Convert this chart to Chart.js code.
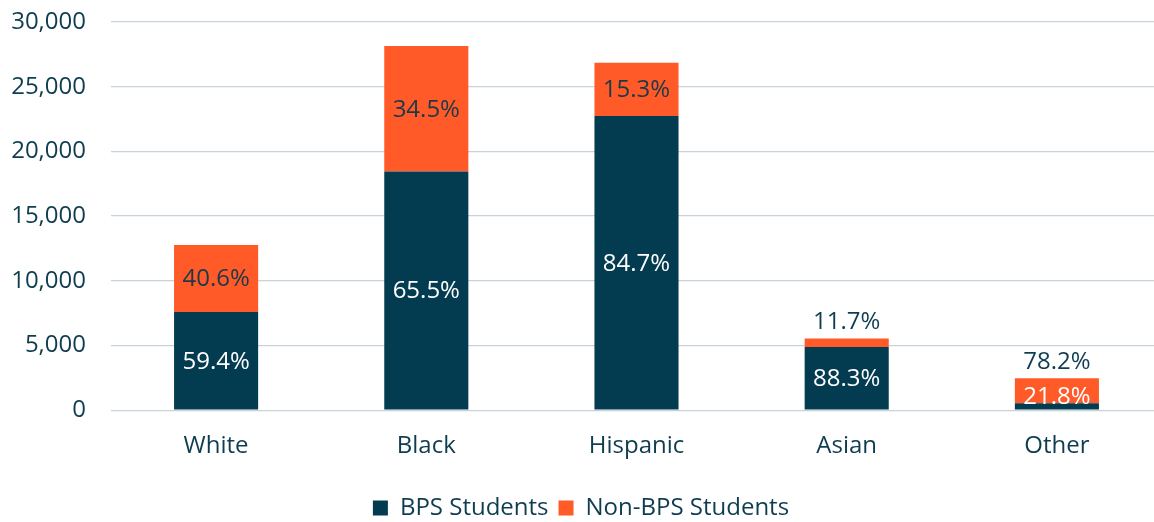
<!DOCTYPE html>
<html>
<head>
<meta charset="utf-8">
<script src="https://cdn.jsdelivr.net/npm/chart.js@4"></script>
<style>
  html, body { margin: 0; padding: 0; background: #ffffff; overflow: hidden; }
  #wrap { position: relative; width: 1162px; height: 522px; }
</style>
</head>
<body>
<div id="wrap"><canvas id="chart"></canvas></div>
<script>
// ---- data ----
const categories = ["White", "Black", "Hispanic", "Asian", "Other"];
const seriesNames = ["BPS Students", "Non-BPS Students"];
const bpsStudents = [7580, 18440, 22740, 4890, 540];
const nonBpsStudents = [5190, 9710, 4110, 650, 1920];
const bpsPctLabels = ["59.4%", "65.5%", "84.7%", "88.3%", "21.8%"];
const nonBpsPctLabels = ["40.6%", "34.5%", "15.3%", "11.7%", "78.2%"];
const yMin = 0;
const yMax = 30000;
const yStep = 5000;

// ---- style ----
const DARK = "#033C50";
const ORANGE = "#FF5A28";
const TEXT = "#0F3D50";
const GRID = "#C8D2D9";
const FONT = "'Open Sans', 'Noto Sans', sans-serif";
const FS = 24;

const labelSets = [bpsPctLabels, nonBpsPctLabels];
const labelColors = ["#ffffff", "#1A3A4A"];

const segmentLabels = {
  id: "segmentLabels",
  afterDatasetsDraw(chart) {
    const ctx = chart.ctx;
    ctx.save();
    ctx.font = FS + "px " + FONT;
    ctx.textAlign = "center";
    ctx.textBaseline = "middle";
    chart.data.datasets.forEach((ds, di) => {
      const meta = chart.getDatasetMeta(di);
      meta.data.forEach((bar, i) => {
        const top = Math.min(bar.y, bar.base);
        const bottom = Math.max(bar.y, bar.base);
        const h = bottom - top;
        let cy, color;
        if (h >= 30) {
          cy = (top + bottom) / 2;
          color = labelColors[di];
        } else if (di === 1) {
          cy = top - 17;
          color = TEXT;
        } else {
          cy = Math.min((top + bottom) / 2, bottom - 13);
          color = "#ffffff";
        }
        ctx.fillStyle = color;
        ctx.fillText(labelSets[di][i], bar.x, cy + 1);
      });
    });
    ctx.restore();
  }
};

new Chart(document.getElementById("chart"), {
  type: "bar",
  data: {
    labels: categories,
    datasets: [
      { label: seriesNames[0], data: bpsStudents, backgroundColor: DARK, borderWidth: 0 },
      { label: seriesNames[1], data: nonBpsStudents, backgroundColor: ORANGE, borderWidth: 0 }
    ]
  },
  options: {
    responsive: true,
    maintainAspectRatio: false,
    animation: false,
    layout: { padding: { top: 22, right: 0, bottom: -8, left: 0 } },
    datasets: { bar: { barPercentage: 0.4, categoryPercentage: 1.0 } },
    plugins: {
      legend: {
        position: "bottom",
        labels: {
          font: { family: FONT, size: FS },
          color: TEXT,
          boxWidth: 15,
          boxHeight: 15,
          padding: 10
        }
      },
      tooltip: { enabled: false }
    },
    scales: {
      x: {
        stacked: true,
        grid: { display: false, drawTicks: false },
        border: { display: false },
        ticks: { font: { family: FONT, size: FS }, color: TEXT, padding: 22 },
        afterFit(scale) { scale.height += 3; scale.paddingLeft = 0; scale.paddingRight = 0; }
      },
      y: {
        stacked: true,
        min: yMin,
        max: yMax,
        grid: { color: GRID, lineWidth: 1.3, drawTicks: false },
        border: { display: false },
        ticks: {
          stepSize: yStep,
          font: { family: FONT, size: FS },
          color: TEXT,
          padding: 25,
          callback: v => v.toLocaleString("en-US")
        },
        afterFit(scale) { scale.width = 111; scale.paddingTop = 0; scale.paddingBottom = 0; }
      }
    }
  },
  plugins: [segmentLabels]
});
</script>
</body>
</html>
